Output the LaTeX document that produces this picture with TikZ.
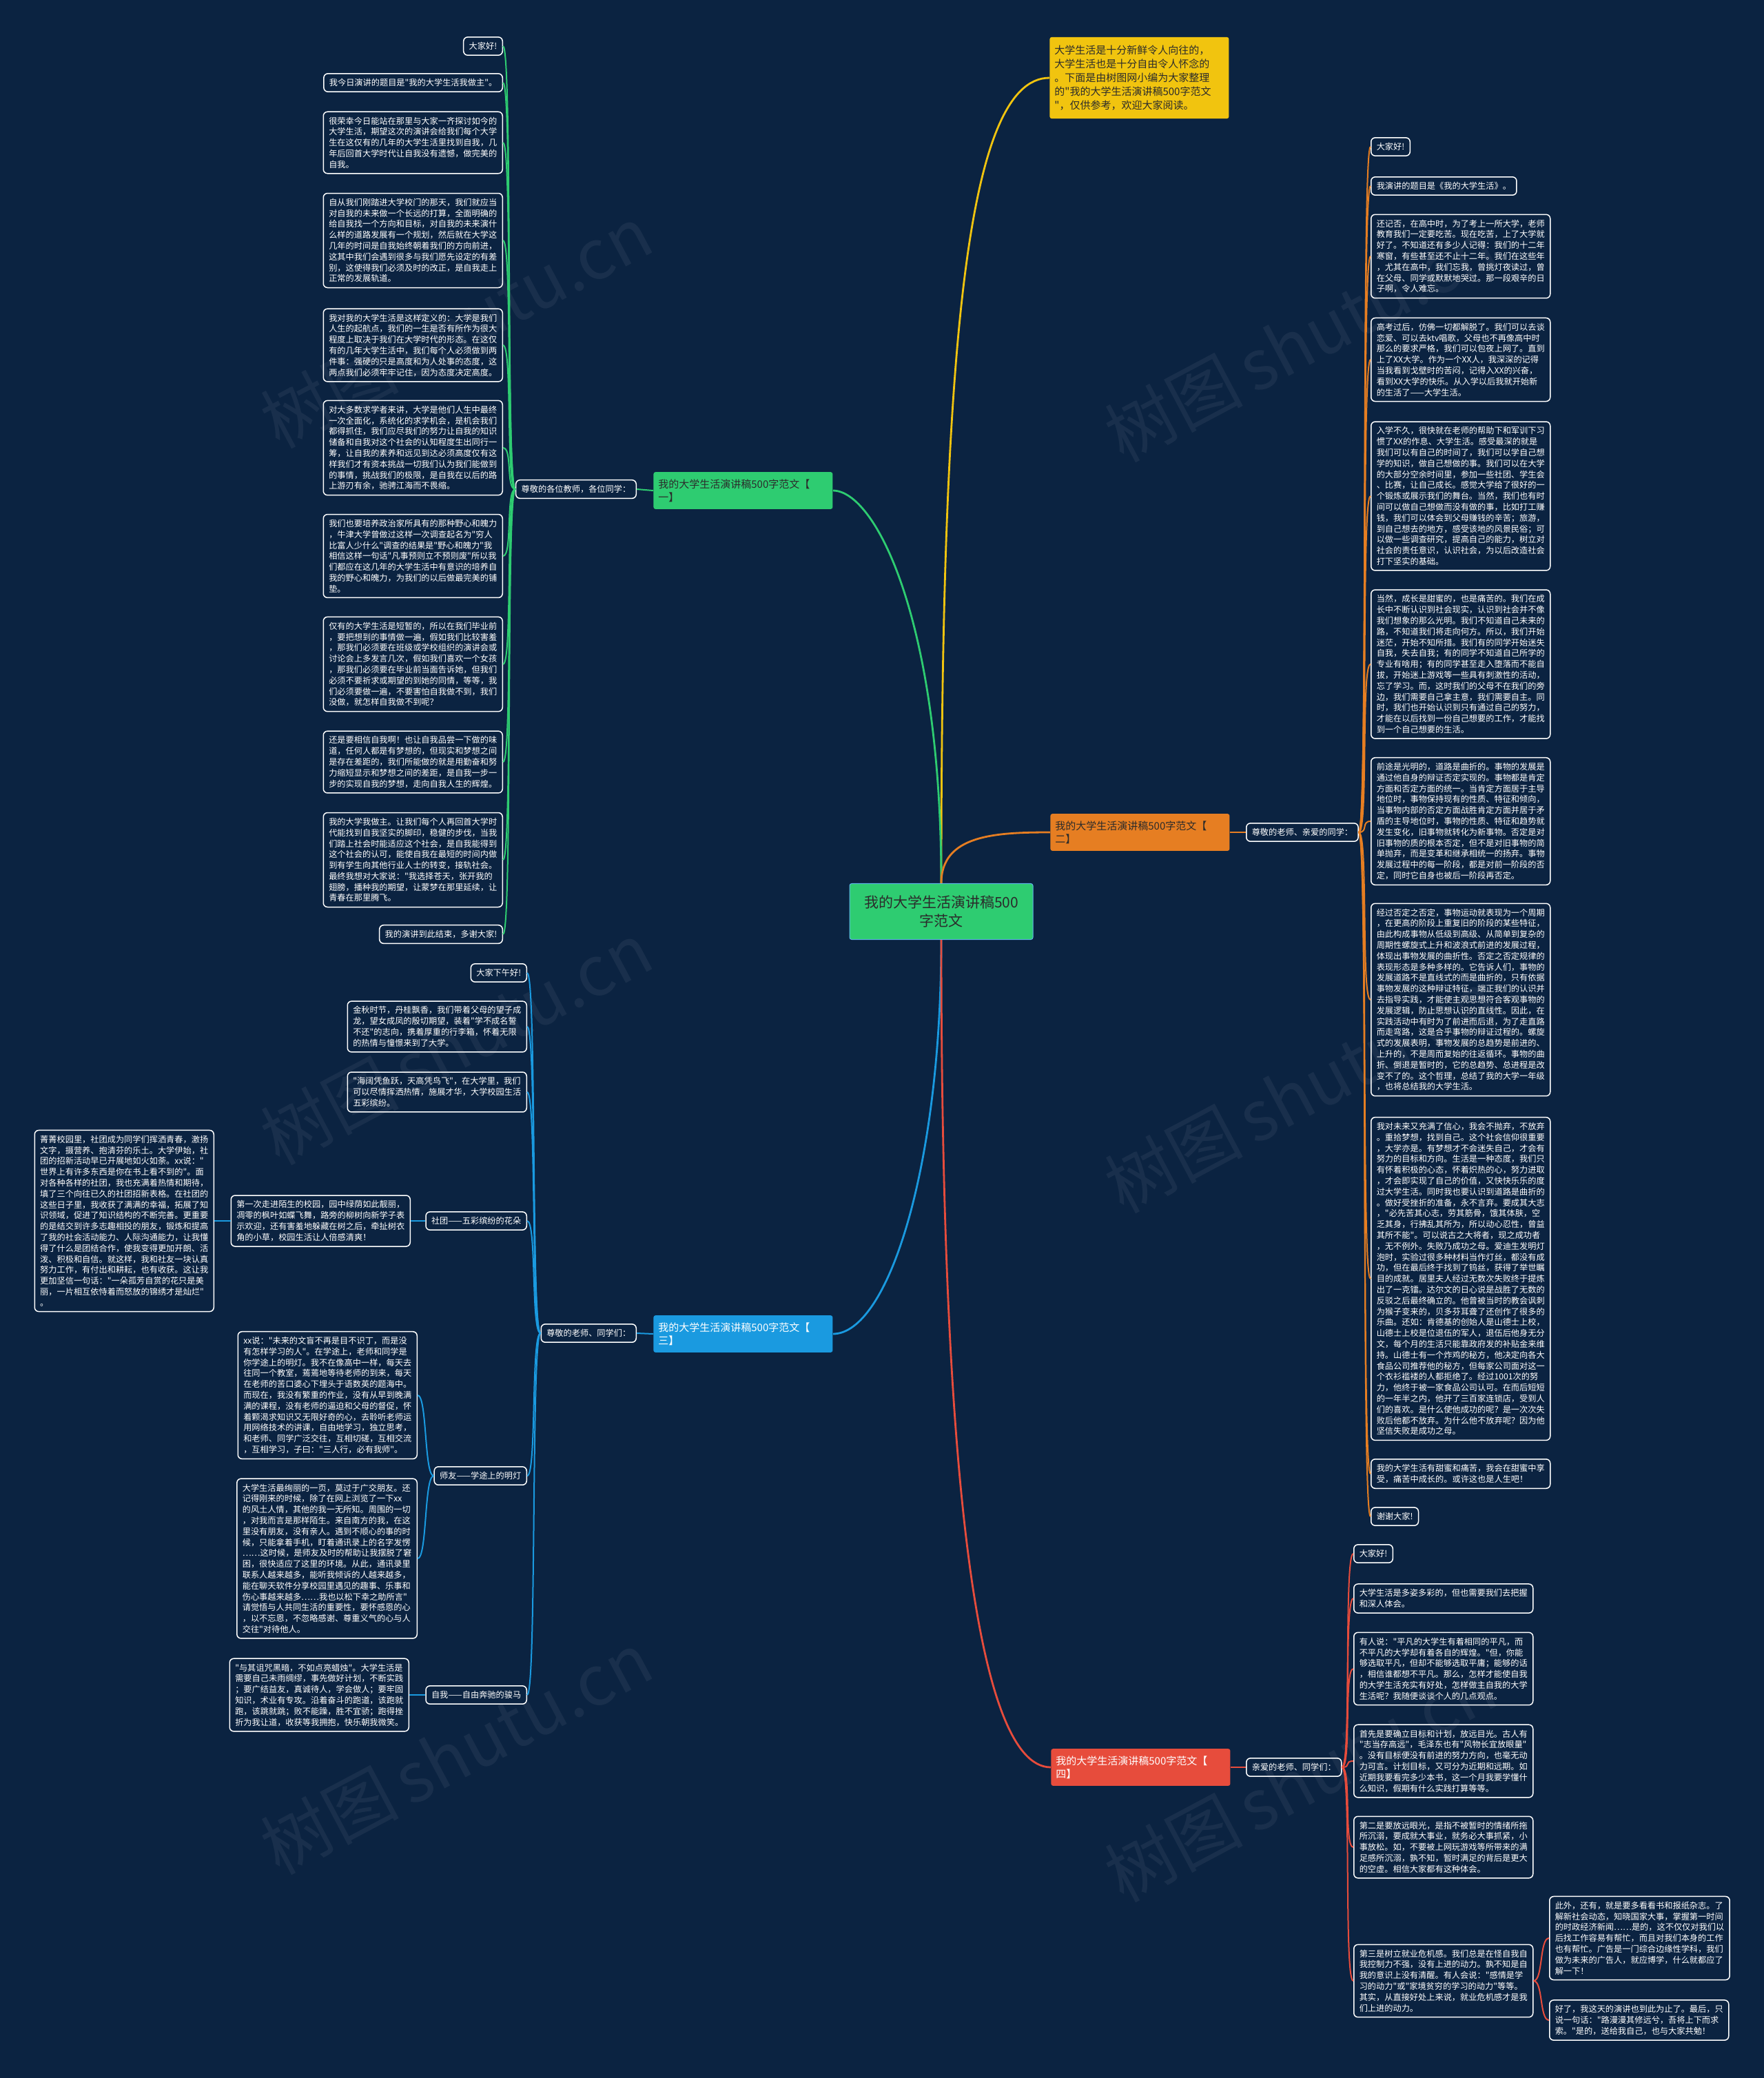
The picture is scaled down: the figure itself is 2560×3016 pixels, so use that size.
\documentclass[tikz,border=0pt]{standalone}
\usepackage{fontspec}
\setmainfont{Noto Sans CJK SC}
\newfontfamily\cjkfont{Noto Sans CJK SC}
\usepackage{tikz}

\begin{document}
\begin{tikzpicture}[x=0.5pt,y=-0.5pt]
  \definecolor{navyBg}{HTML}{0B2341}
  \definecolor{rootGreen}{HTML}{2ECC71}
  \definecolor{introYellow}{HTML}{F1C40F}
  \definecolor{twigOrange}{HTML}{E67E22}
  \definecolor{twigBlue}{HTML}{1A9AE0}
  \definecolor{twigRed}{HTML}{E74C3C}
  \definecolor{inkDark}{HTML}{2B2B2B}
  \tikzset{
    leaf/.style={draw=white, line width=0.75pt, rounded corners=3pt, text=white,
      align=left, inner xsep=4pt, inner ysep=3.75pt,
      font={\cjkfont\fontsize{6.1}{7.9}\selectfont}},
    branch/.style={rounded corners=1.5pt, align=left, text width=123pt,
      inner xsep=3.5pt, inner ysep=5.1pt, font={\cjkfont\fontsize{7.5}{9.7}\selectfont}},
    stem/.style={line width=1.4pt},
    twig/.style={line width=1pt},
    wmark/.style={text=white, text opacity=0.06, rotate=28, inner sep=0pt,
      font={\cjkfont\fontsize{50}{54}\selectfont}}
  }

  %--- background and page size ---
  \fill[navyBg] (0,0) rectangle (2560,3016);
  \useasboundingbox (0,0) rectangle (2560,3016);

  %--- watermarks ---
  \foreach \wx/\wy [count=\k] in {565/525,1790/545,565/1565,1790/1635,565/2595,1790/2635} {
    \node[wmark, anchor=east] (wmA\k) at (\wx,\wy) {树图};
    \node[wmark, anchor=west, xshift=7pt] (wmB\k) at (wmA\k.east) {shutu.cn};
  }

  %--- root and intro ---
  \node[fill=rootGreen, draw=twigBlue!70, line width=0.5pt, rounded corners=1.5pt,
        text=inkDark, align=center, minimum width=133pt, inner ysep=8.8pt,
        font={\cjkfont\fontsize{10.5}{13.2}\selectfont}] (root) at (1366,1323)
        {我的大学生活演讲稿500\\字范文};
  \node[branch, fill=introYellow, text=inkDark, inner ysep=6pt,
        font={\cjkfont\fontsize{7.5}{10}\selectfont}, anchor=west] (intro) at (1523,113)
        {大学生活是十分新鲜令人向往的，\\大学生活也是十分自由令人怀念的\\。下面是由树图网小编为大家整理\\的"我的大学生活演讲稿500字范文\\"，仅供参考，欢迎大家阅读。};

  %--- branch nodes ---
  \node[branch, fill=rootGreen, text=inkDark, anchor=west] (b1) at (948,712) {我的大学生活演讲稿500字范文【\\一】};
  \node[branch, fill=twigOrange, text=inkDark, anchor=west] (b2) at (1524,1208) {我的大学生活演讲稿500字范文【\\二】};
  \node[branch, fill=twigBlue, text=white, anchor=west] (b3) at (948,1936) {我的大学生活演讲稿500字范文【\\三】};
  \node[branch, fill=twigRed, text=white, anchor=west] (b4) at (1525,2565) {我的大学生活演讲稿500字范文【\\四】};

  \node[leaf, anchor=east] (b1s) at (924,710) {尊敬的各位教师，各位同学：};
  \node[leaf, anchor=west] (b2s) at (1808,1208) {尊敬的老师、亲爱的同学：};
  \node[leaf, anchor=east] (b3s) at (924,1935) {尊敬的老师、同学们：};
  \node[leaf, anchor=west] (b4s) at (1808,2565) {亲爱的老师、同学们：};

  %--- stems from the root ---
  \draw[stem, introYellow] (root.north) .. controls +(0,-780) and +(-120,0) .. (intro.west);
  \draw[stem, rootGreen] (root.north) .. controls +(0,-380) and +(62,0) .. (b1.east);
  \draw[stem, twigOrange] (root.north) .. controls +(0,-70) and +(-80,0) .. (b2.west);
  \draw[stem, twigBlue] (root.south) .. controls +(0,330) and +(80,0) .. (b3.east);
  \draw[stem, twigRed] (root.south) .. controls +(0,760) and +(-110,0) .. (b4.west);

  \draw[twig, rootGreen] (b1s.east) -- (b1.west);
  \draw[twig, twigOrange] (b2.east) -- (b2s.west);
  \draw[twig, twigBlue] (b3s.east) -- (b3.west);
  \draw[twig, twigRed] (b4.east) -- (b4s.west);

  %--- branch one: leaves on the left ---
  \foreach \n/\yy/\txt in {
    l1/67/{大家好!},
    l2/120/{我今日演讲的题目是"我的大学生活我做主"。},
    l3/207/{很荣幸今日能站在那里与大家一齐探讨如今的\\大学生活，期望这次的演讲会给我们每个大学\\生在这仅有的几年的大学生活里找到自我，几\\年后回首大学时代让自我没有遗憾，做完美的\\自我。},
    l4/349/{自从我们刚踏进大学校门的那天，我们就应当\\对自我的未来做一个长远的打算，全面明确的\\给自我找一个方向和目标，对自我的未来演什\\么样的道路发展有一个规划，然后就在大学这\\几年的时间是自我始终朝着我们的方向前进，\\这其中我们会遇到很多与我们愿先设定的有差\\别，这使得我们必须及时的改正，是自我走上\\正常的发展轨道。},
    l5/501/{我对我的大学生活是这样定义的：大学是我们\\人生的起航点，我们的一生是否有所作为很大\\程度上取决于我们在大学时代的形态。在这仅\\有的几年大学生活中，我们每个人必须做到两\\件事：强硬的只是高度和为人处事的态度，这\\两点我们必须牢牢记住，因为态度决定高度。},
    l6/650/{对大多数求学者来讲，大学是他们人生中最终\\一次全面化，系统化的求学机会，是机会我们\\都得抓住，我们应尽我们的努力让自我的知识\\储备和自我对这个社会的认知程度生出同行一\\筹，让自我的素养和远见到达必须高度仅有这\\样我们才有资本挑战一切我们认为我们能做到\\的事情，挑战我们的极限，是自我在以后的路\\上游刃有余，驰骋江海而不畏缩。},
    l7/807/{我们也要培养政治家所具有的那种野心和魄力\\，牛津大学曾做过这样一次调查起名为"穷人\\比富人少什么"调查的结果是"野心和魄力"我\\相信这样一句话"凡事预则立不预则废"所以我\\们都应在这几年的大学生活中有意识的培养自\\我的野心和魄力，为我们的以后做最完美的铺\\垫。},
    l8/964/{仅有的大学生活是短暂的，所以在我们毕业前\\，要把想到的事情做一遍，假如我们比较害羞\\，那我们必须要在班级或学校组织的演讲会或\\讨论会上多发言几次，假如我们喜欢一个女孩\\，那我们必须要在毕业前当面告诉她，但我们\\必须不要祈求或期望的到她的同情，等等，我\\们必须要做一遍，不要害怕自我做不到，我们\\没做，就怎样自我做不到呢？},
    l9/1106/{还是要相信自我啊！也让自我品尝一下做的味\\道，任何人都是有梦想的，但现实和梦想之间\\是存在差距的，我们所能做的就是用勤奋和努\\力缩短显示和梦想之间的差距，是自我一步一\\步的实现自我的梦想，走向自我人生的辉煌。},
    l10/1248/{我的大学我做主。让我们每个人再回首大学时\\代能找到自我坚实的脚印，稳健的步伐，当我\\们踏上社会时能适应这个社会，是自我能得到\\这个社会的认可，能使自我在最短的时间内做\\到有学生向其他行业人士的转变，接轨社会。\\最终我想对大家说："我选择苍天，张开我的\\翅膀，播种我的期望，让蒙梦在那里延续，让\\青春在那里腾飞。},
    l11/1356/{我的演讲到此结束，多谢大家!}} {
    \node[leaf, anchor=east] (\n) at (730,\yy) {\txt};
    \draw[twig, rootGreen] (b1s.west) .. controls +(-14,0) and +(14,0) .. (\n.east);
  }

  %--- branch two: leaves on the right ---
  \foreach \n/\yy/\txt in {
    r1/213/{大家好!},
    r2/270/{我演讲的题目是《我的大学生活》。},
    r3/372/{还记否，在高中时，为了考上一所大学，老师\\教育我们一定要吃苦。现在吃苦，上了大学就\\好了。不知道还有多少人记得：我们的十二年\\寒窗，有些甚至还不止十二年。我们在这些年\\，尤其在高中，我们忘我，曾挑灯夜读过，曾\\在父母、同学或默默地哭过。那一段艰辛的日\\子啊，令人难忘。},
    r4/522/{高考过后，仿佛一切都解脱了。我们可以去谈\\恋爱、可以去ktv唱歌，父母也不再像高中时\\那么的要求严格，我们可以包夜上网了。直到\\上了XX大学。作为一个XX人，我深深的记得\\当我看到戈壁时的苦闷，记得入XX的兴奋，\\看到XX大学的快乐。从入学以后我就开始新\\的生活了——大学生活。},
    r5/720/{入学不久，很快就在老师的帮助下和军训下习\\惯了XX的作息、大学生活。感受最深的就是\\我们可以有自己的时间了，我们可以学自己想\\学的知识，做自己想做的事。我们可以在大学\\的大部分空余时间里，参加一些社团、学生会\\、比赛，让自己成长。感觉大学给了很好的一\\个锻炼或展示我们的舞台。当然，我们也有时\\间可以做自己想做而没有做的事，比如打工赚\\钱，我们可以体会到父母赚钱的辛苦；旅游，\\到自己想去的地方，感受该地的风景民俗；可\\以做一些调查研究，提高自己的能力，树立对\\社会的责任意识，认识社会，为以后改造社会\\打下坚实的基础。},
    r6/964/{当然，成长是甜蜜的，也是痛苦的。我们在成\\长中不断认识到社会现实，认识到社会并不像\\我们想象的那么光明。我们不知道自己未来的\\路，不知道我们将走向何方。所以，我们开始\\迷茫，开始不知所措。我们有的同学开始迷失\\自我，失去自我；有的同学不知道自己所学的\\专业有啥用；有的同学甚至走入堕落而不能自\\拔，开始迷上游戏等一些具有刺激性的活动，\\忘了学习。而，这时我们的父母不在我们的旁\\边，我们需要自己拿主意，我们需要自主。同\\时，我们也开始认识到只有通过自己的努力，\\才能在以后找到一份自己想要的工作，才能找\\到一个自己想要的生活。},
    r7/1192/{前途是光明的，道路是曲折的。事物的发展是\\通过他自身的辩证否定实现的。事物都是肯定\\方面和否定方面的统一。当肯定方面居于主导\\地位时，事物保持现有的性质、特征和倾向，\\当事物内部的否定方面战胜肯定方面并居于矛\\盾的主导地位时，事物的性质、特征和趋势就\\发生变化，旧事物就转化为新事物。否定是对\\旧事物的质的根本否定，但不是对旧事物的简\\单抛弃，而是变革和继承相统一的扬弃。事物\\发展过程中的每一阶段，都是对前一阶段的否\\定，同时它自身也被后一阶段再否定。},
    r8/1451/{经过否定之否定，事物运动就表现为一个周期\\，在更高的阶段上重复旧的阶段的某些特征，\\由此构成事物从低级到高级、从简单到复杂的\\周期性螺旋式上升和波浪式前进的发展过程，\\体现出事物发展的曲折性。否定之否定规律的\\表现形态是多种多样的。它告诉人们，事物的\\发展道路不是直线式的而是曲折的，只有依据\\事物发展的这种辩证特征，端正我们的认识并\\去指导实践，才能使主观思想符合客观事物的\\发展逻辑，防止思想认识的直线性。因此，在\\实践活动中有时为了前进而后退，为了走直路\\而走弯路，这是合乎事物的辩证过程的。螺旋\\式的发展表明，事物发展的总趋势是前进的、\\上升的，不是周而复始的往返循环。事物的曲\\折、倒退是暂时的，它的总趋势、总进程是改\\变不了的。这个哲理，总结了我的大学一年级\\，也将总结我的大学生活。},
    r9/1856/{我对未来又充满了信心，我会不抛弃，不放弃\\。重拾梦想，找到自己。这个社会信仰很重要\\，大学亦是。有梦想才不会迷失自己，才会有\\努力的目标和方向。生活是一种态度，我们只\\有怀着积极的心态，怀着炽热的心，努力进取\\，才会即实现了自己的价值，又快快乐乐的度\\过大学生活。同时我也要认识到道路是曲折的\\。做好受挫折的准备，永不言弃。要成其大志\\，"必先苦其心志，劳其筋骨，饿其体肤，空\\乏其身，行拂乱其所为，所以动心忍性，曾益\\其所不能"。可以说古之大将者，现之成功者\\，无不例外。失败乃成功之母。爱迪生发明灯\\泡时，实验过很多种材料当作灯丝，都没有成\\功，但在最后终于找到了钨丝，获得了举世瞩\\目的成就。居里夫人经过无数次失败终于提炼\\出了一克镭。达尔文的日心说是战胜了无数的\\反驳之后最终确立的。他曾被当时的教会讽刺\\为猴子变来的，贝多芬耳聋了还创作了很多的\\乐曲。还如：肯德基的创始人是山德士上校，\\山德士上校是位退伍的军人，退伍后他身无分\\文，每个月的生活只能靠政府发的补贴金来维\\持。山德士有一个炸鸡的秘方，他决定向各大\\食品公司推荐他的秘方，但每家公司面对这一\\个衣衫褴褛的人都拒绝了。经过1001次的努\\力，他终于被一家食品公司认可。在而后短短\\的一年半之内，他开了三百家连锁店，受到人\\们的喜欢。是什么使他成功的呢？是一次次失\\败后他都不放弃。为什么他不放弃呢？因为他\\坚信失败是成功之母。},
    r10/2139/{我的大学生活有甜蜜和痛苦，我会在甜蜜中享\\受，痛苦中成长的。或许这也是人生吧！},
    r11/2201/{谢谢大家!}} {
    \node[leaf, anchor=west] (\n) at (1989,\yy) {\txt};
    \draw[twig, twigOrange] (b2s.east) .. controls +(14,0) and +(-14,0) .. (\n.west);
  }

  %--- branch three: topics on the left ---
  \foreach \n/\yy/\txt in {
    s1/1412/{大家下午好!},
    s2/1490/{金秋时节，丹桂飘香，我们带着父母的望子成\\龙，望女成凤的殷切期望，装着"学不成名誓\\不还"的志向，携着厚重的行李箱，怀着无限\\的热情与憧憬来到了大学。},
    s3/1585/{"海阔凭鱼跃，天高凭鸟飞"，在大学里，我们\\可以尽情挥洒热情，施展才华，大学校园生活\\五彩缤纷。},
    s4/1772/{社团——五彩缤纷的花朵},
    s5/2142/{师友——学途上的明灯},
    s6/2460/{自我——自由奔驰的骏马}} {
    \node[leaf, anchor=east] (\n) at (765,\yy) {\txt};
    \draw[twig, twigBlue] (b3s.west) .. controls +(-14,0) and +(14,0) .. (\n.east);
  }

  \node[leaf, anchor=east] (s4a) at (596,1772) {第一次走进陌生的校园，园中绿荫如此靓丽，\\凋零的枫叶如蝶飞舞，路旁的柳树向新学子表\\示欢迎，还有害羞地躲藏在树之后，牵扯树衣\\角的小草，校园生活让人倍感清爽！};
  \node[leaf, anchor=east] (s4b) at (311,1772) {菁菁校园里，社团成为同学们挥洒青春，激扬\\文字，摄营养、抱清芬的乐土。大学伊始，社\\团的招新活动早已开展地如火如荼。xx说："\\世界上有许多东西是你在书上看不到的"。面\\对各种各样的社团，我也充满着热情和期待，\\填了三个向往已久的社团招新表格。在社团的\\这些日子里，我收获了满满的幸福，拓展了知\\识领域，促进了知识结构的不断完善。更重要\\的是结交到许多志趣相投的朋友，锻炼和提高\\了我的社会活动能力、人际沟通能力，让我懂\\得了什么是团结合作，使我变得更加开朗、活\\泼、积极和自信。就这样，我和社友一块认真\\努力工作，有付出和耕耘，也有收获。这让我\\更加坚信一句话："一朵孤芳自赏的花只是美\\丽，一片相互依恃着而怒放的锦绣才是灿烂"\\。};
  \draw[twig, twigBlue] (s4.west) -- (s4a.east);
  \draw[twig, twigBlue] (s4a.west) -- (s4b.east);

  \node[leaf, anchor=east] (s5a) at (606,2025) {xx说："未来的文盲不再是目不识丁，而是没\\有怎样学习的人"。在学途上，老师和同学是\\你学途上的明灯。我不在像高中一样，每天去\\往同一个教室，蔫蔫地等待老师的到来，每天\\在老师的苦口婆心下埋头于语数英的题海中。\\而现在，我没有繁重的作业，没有从早到晚满\\满的课程，没有老师的逼迫和父母的督促，怀\\着颗渴求知识又无限好奇的心，去聆听老师运\\用网络技术的讲课，自由地学习，独立思考，\\和老师、同学广泛交往，互相切磋，互相交流\\，互相学习，子曰："三人行，必有我师"。};
  \node[leaf, anchor=east] (s5b) at (606,2262) {大学生活最绚丽的一页，莫过于广交朋友。还\\记得刚来的时候，除了在网上浏览了一下xx\\的风土人情，其他的我一无所知。周围的一切\\，对我而言是那样陌生。来自南方的我，在这\\里没有朋友，没有亲人。遇到不顺心的事的时\\候，只能拿着手机，盯着通讯录上的名字发愣\\……这时候，是师友及时的帮助让我摆脱了窘\\困，很快适应了这里的环境。从此，通讯录里\\联系人越来越多，能听我倾诉的人越来越多，\\能在聊天软件分享校园里遇见的趣事、乐事和\\伤心事越来越多……我也以松下幸之助所言"\\请觉悟与人共同生活的重要性，要怀感恩的心\\，以不忘恩，不忽略感谢、尊重义气的心与人\\交往"对待他人。};
  \draw[twig, twigBlue] (s5.west) .. controls +(-14,0) and +(14,0) .. (s5a.east);
  \draw[twig, twigBlue] (s5.west) .. controls +(-14,0) and +(14,0) .. (s5b.east);

  \node[leaf, anchor=east] (s6a) at (594,2460) {"与其诅咒黑暗，不如点亮蜡烛"。大学生活是\\需要自己未雨绸缪，事先做好计划，不断实践\\；要广结益友，真诚待人，学会做人；要牢固\\知识，术业有专攻。沿着奋斗的跑道，该跑就\\跑，该跳就跳；败不能躁，胜不宜骄；跑得挫\\折为我让道，收获等我拥抱，快乐朝我微笑。};
  \draw[twig, twigBlue] (s6.west) -- (s6a.east);

  %--- branch four: leaves on the right ---
  \foreach \n/\yy/\txt in {
    d1/2255/{大家好!},
    d2/2320/{大学生活是多姿多彩的，但也需要我们去把握\\和深人体会。},
    d3/2422/{有人说："平凡的大学生有着相同的平凡，而\\不平凡的大学却有着各自的辉煌。"但，你能\\够选取平凡，但却不能够选取平庸；能够的话\\，相信谁都想不平凡。那么，怎样才能使自我\\的大学生活充实有好处，怎样做主自我的大学\\生活呢？我随便谈谈个人的几点观点。},
    d4/2556/{首先是要确立目标和计划，放远目光。古人有\\"志当存高远"，毛泽东也有"风物长宜放眼量"\\。没有目标便没有前进的努力方向，也毫无动\\力可言。计划目标，又可分为近期和远期。如\\近期我要看完多少本书，这一个月我要学懂什\\么知识，假期有什么实践打算等等。},
    d5/2681/{第二是要放远眼光，是指不被暂时的情绪所拖\\所沉溺，要成就大事业，就务必大事抓紧，小\\事放松。如，不要被上网玩游戏等所带来的满\\足感所沉溺，孰不知，暂时满足的背后是更大\\的空虚。相信大家都有这种体会。},
    d6/2875/{第三是树立就业危机感。我们总是在怪自我自\\我控制力不强，没有上进的动力。孰不知是自\\我的意识上没有清醒。有人会说："感情是学\\习的动力"或"家境贫穷的学习的动力"等等。\\其实，从直接好处上来说，就业危机感才是我\\们上进的动力。}} {
    \node[leaf, anchor=west] (\n) at (1964,\yy) {\txt};
    \draw[twig, twigRed] (b4s.east) .. controls +(14,0) and +(-14,0) .. (\n.west);
  }

  \node[leaf, anchor=west] (d6a) at (2248,2813) {此外，还有，就是要多看看书和报纸杂志。了\\解新社会动态，知晓国家大事，掌握第一时间\\的时政经济新闻……是的，这不仅仅对我们以\\后找工作容易有帮忙，而且对我们本身的工作\\也有帮忙。广告是一门综合边缘性学科，我们\\做为未来的广告人，就应博学，什么就都应了\\解一下！};
  \node[leaf, anchor=west] (d6b) at (2248,2932) {好了，我这天的演讲也到此为止了。最后，只\\说一句话："路漫漫其修远兮，吾将上下而求\\索。"是的，送给我自己，也与大家共勉！};
  \draw[twig, twigRed] (d6.east) .. controls +(14,0) and +(-14,0) .. (d6a.west);
  \draw[twig, twigRed] (d6.east) .. controls +(14,0) and +(-14,0) .. (d6b.west);

\end{tikzpicture}
\end{document}
